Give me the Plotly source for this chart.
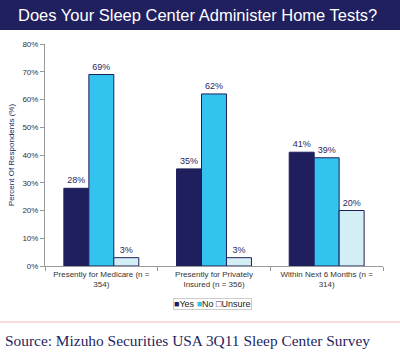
import plotly.graph_objects as go

categories = ["Presently for Medicare (n =<br>354)", "Presently for Privately<br>Insured (n = 356)", "Within Next 6 Months (n =<br>314)"]
series_names = ["Yes", "No", "Unsure"]
yes_vals = [28, 35, 41]
no_vals = [69, 62, 39]
unsure_vals = [3, 3, 20]
y_ticks = [0, 10, 20, 30, 40, 50, 60, 70, 80]
y_tick_labels = [f"{v}%" for v in y_ticks]

NAVY = "#1F1F5E"
CYAN = "#33C3EE"
LIGHT = "#D3EEF4"
colors = [NAVY, CYAN, LIGHT]

fig = go.Figure()
for name, vals, color in zip(series_names, [yes_vals, no_vals, unsure_vals], colors):
    fig.add_trace(go.Bar(
        name=name, x=categories, y=vals,
        marker=dict(color=color, line=dict(color=NAVY, width=1)),
        text=[f"{v}%" for v in vals], textposition="outside",
        textfont=dict(family="Arial, Liberation Sans", size=9, color=NAVY),
        cliponaxis=False,
    ))

W, H = 400, 357
L, R, T, B = 45, 17, 44, 91
pw, ph = W - L - R, H - T - B

def px_x(x):
    return (x - L) / pw

def px_y(y):
    return (H - B - y) / ph

legend_text = " ".join(
    f'<span style="color:{NAVY if c == LIGHT else c}">{"□" if c == LIGHT else "■"}</span>{n}'
    for n, c in zip(series_names, colors)
)

fig.update_layout(
    width=W, height=H,
    margin=dict(l=L, r=R, t=T, b=B, autoexpand=False),
    paper_bgcolor="white", plot_bgcolor="white",
    barmode="group", bargap=0.335, bargroupgap=0,
    showlegend=False,
    font=dict(family="Arial, Liberation Sans", size=8, color="#333333"),
    xaxis=dict(showline=True, linecolor="#999999", linewidth=1, ticks="outside",
               tickson="boundaries", ticklen=4, tickcolor="#999999",
               tickfont=dict(size=8, color="#333333"), showgrid=False),
    yaxis=dict(range=[0, 80], tickvals=y_ticks, ticktext=y_tick_labels,
               showline=True, linecolor="#999999", linewidth=1, ticks="outside",
               ticklen=4, tickcolor="#999999", showgrid=False, zeroline=False,
               tickfont=dict(size=8, color="#333333"),
               title=dict(text="Percent Of Respondents (%)", standoff=6,
                          font=dict(size=8, color=NAVY))),
    shapes=[
        dict(type="rect", xref="paper", yref="paper", x0=px_x(0), x1=px_x(W), y0=px_y(30), y1=px_y(0),
             fillcolor="#20205E", line=dict(width=0), layer="below"),
        dict(type="line", xref="paper", yref="paper", x0=px_x(0), x1=px_x(W), y0=px_y(322), y1=px_y(322),
             line=dict(color="#F4B8B8", width=1)),
    ],
    annotations=[
        dict(text="Does Your Sleep Center Administer Home Tests?", xref="paper", yref="paper",
             x=px_x(197), y=px_y(15), xanchor="center", yanchor="middle", showarrow=False,
             font=dict(family="Liberation Sans, Arial", size=16.5, color="white")),
        dict(text=legend_text, xref="paper", yref="paper",
             x=px_x(212), y=px_y(304), xanchor="center", yanchor="middle", showarrow=False,
             bordercolor="#CCCCCC", borderwidth=1, borderpad=0,
             font=dict(family="Arial, Liberation Sans", size=9, color="#222222")),
        dict(text="Source: Mizuho Securities USA 3Q11 Sleep Center Survey", xref="paper", yref="paper",
             x=px_x(3), y=px_y(340), xanchor="left", yanchor="middle", showarrow=False,
             font=dict(family="Liberation Serif, Times New Roman", size=15.4, color="#1F1F5E")),
    ],
)

fig.write_html("out.html", config={"displayModeBar": False},
               post_script="document.body.style.margin='0';")
